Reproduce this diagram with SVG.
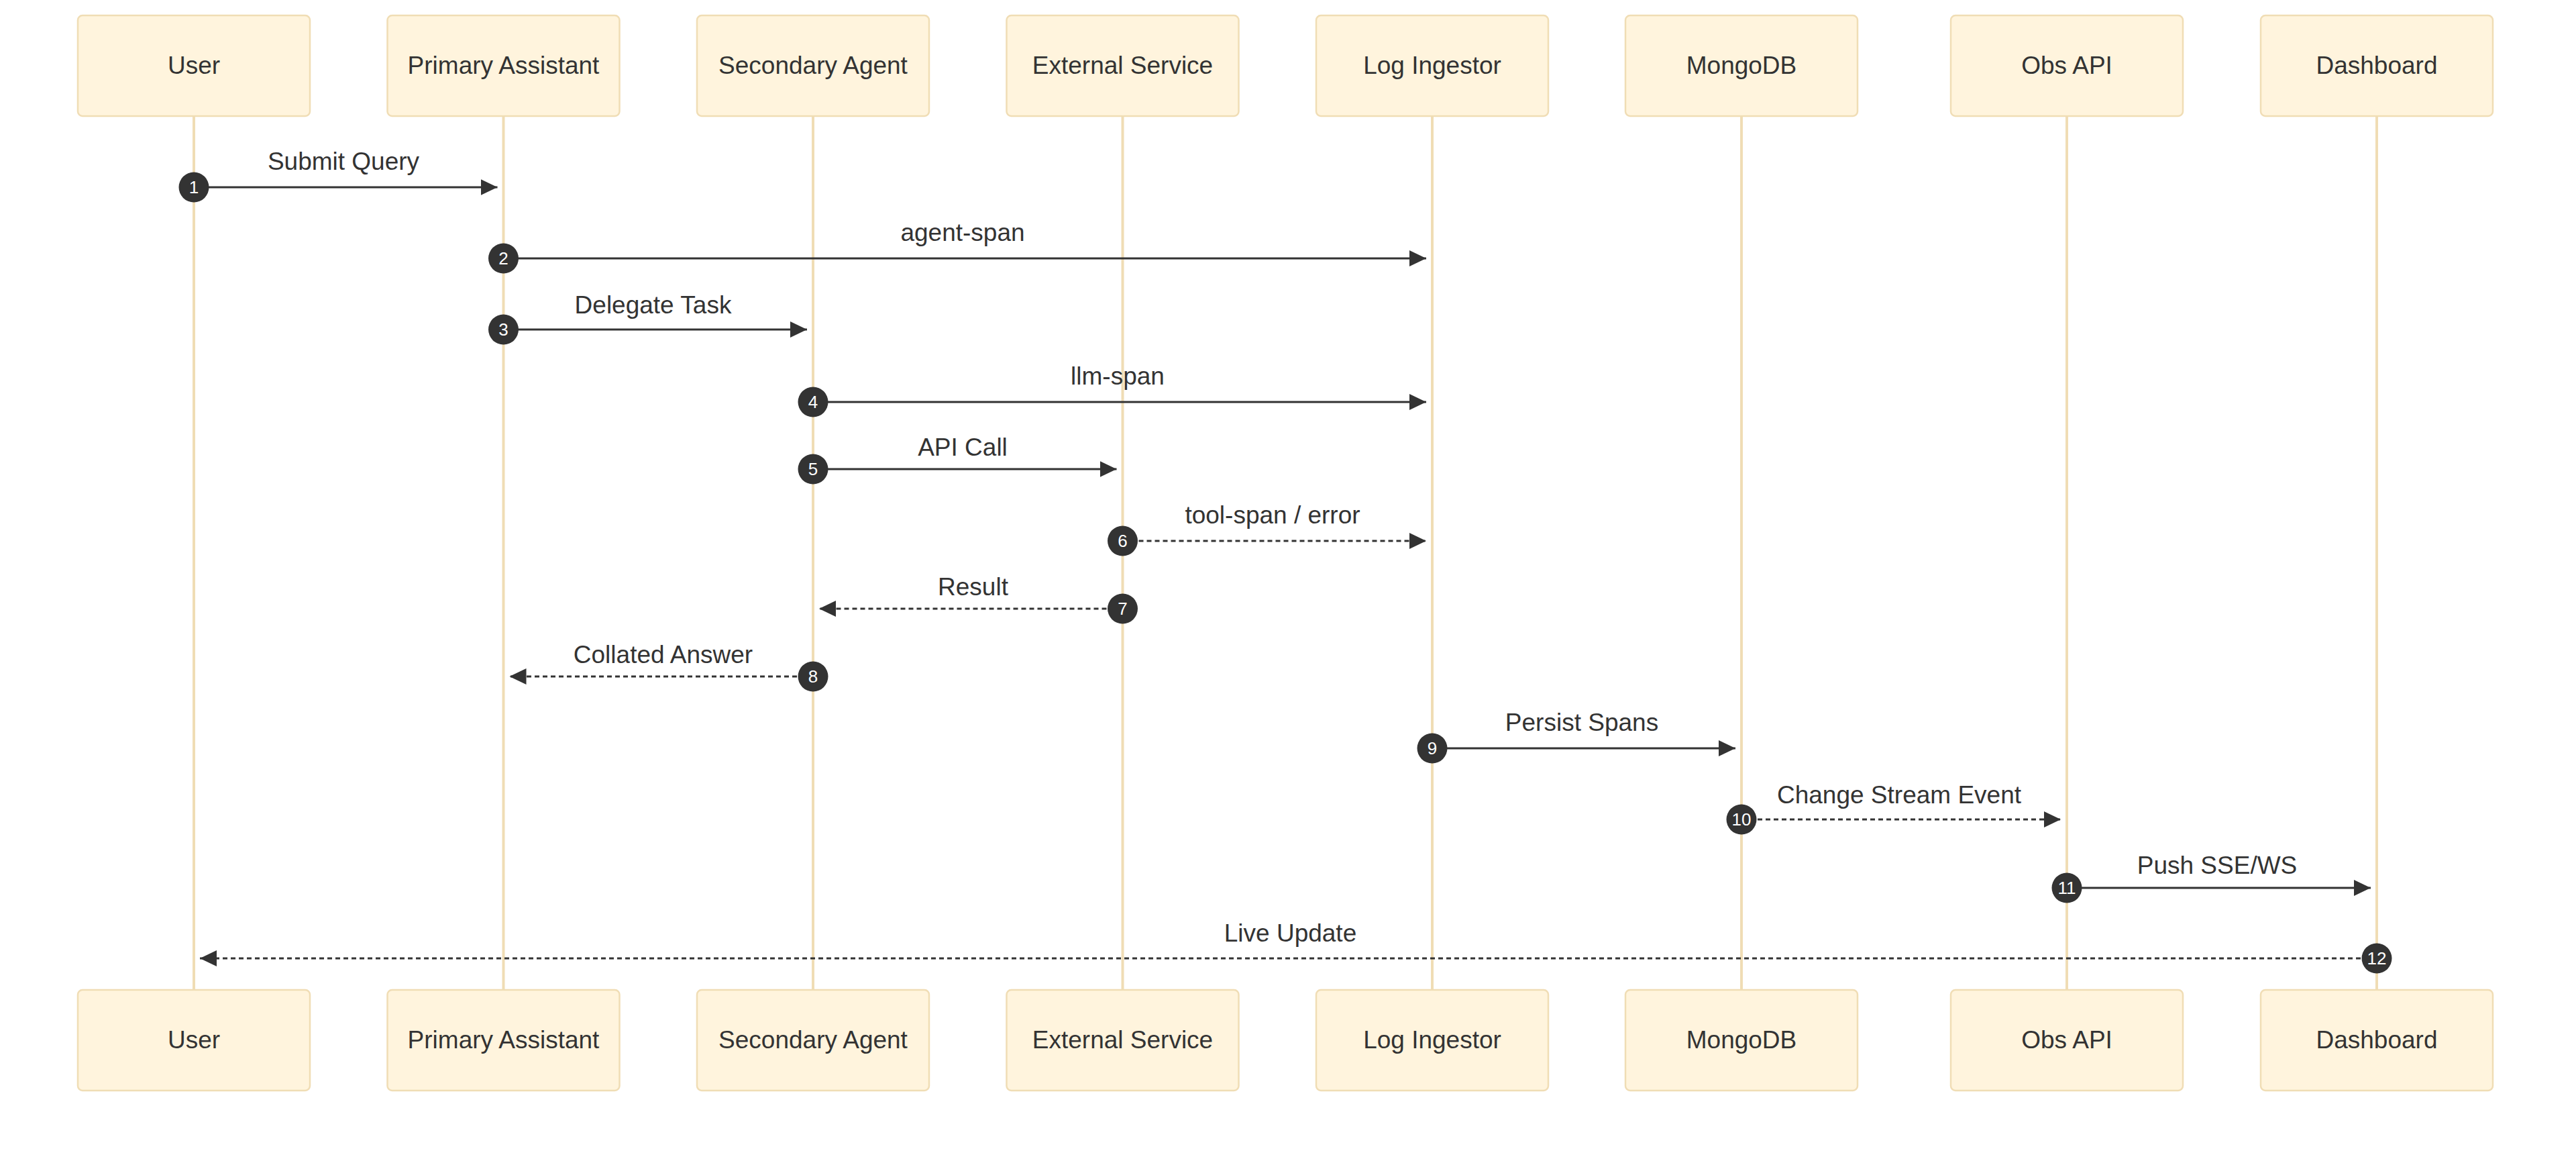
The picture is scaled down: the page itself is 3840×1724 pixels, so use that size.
<svg xmlns="http://www.w3.org/2000/svg" width="3840" height="1724" viewBox="0 0 3840 1724">
<style>
.bg{fill:#ffffff}
.actor{fill:#FFF4DD;stroke:#F0DDB5;stroke-width:2.5}
.atext{font-family:"Liberation Sans",Arial,sans-serif;font-size:37px;fill:#333333;text-anchor:middle}
.life{stroke:#F0DDB5;stroke-width:4}
.msg{stroke:#333333;stroke-width:3;fill:none}
.dash{stroke-dasharray:7,5}
.mtext{font-family:"Liberation Sans",Arial,sans-serif;font-size:37px;fill:#333333;text-anchor:middle}
.num{fill:#333333}
.ntext{font-family:"Liberation Sans",Arial,sans-serif;font-size:26px;fill:#ffffff;text-anchor:middle}
</style>
<defs>
<marker id="arrow" markerUnits="userSpaceOnUse" markerWidth="26" markerHeight="26" refX="25" refY="12" orient="auto">
<path d="M0,0 L25,12 L0,24 z" fill="#333333"/>
</marker>
</defs>
<rect class="bg" x="0" y="0" width="3840" height="1724"/>
<g id="lifelines">
<line class="life" x1="289" y1="173" x2="289" y2="1475"/>
<line class="life" x1="750.5" y1="173" x2="750.5" y2="1475"/>
<line class="life" x1="1212" y1="173" x2="1212" y2="1475"/>
<line class="life" x1="1673.5" y1="173" x2="1673.5" y2="1475"/>
<line class="life" x1="2135" y1="173" x2="2135" y2="1475"/>
<line class="life" x1="2596" y1="173" x2="2596" y2="1475"/>
<line class="life" x1="3081" y1="173" x2="3081" y2="1475"/>
<line class="life" x1="3543" y1="173" x2="3543" y2="1475"/>
</g>
<g id="user-top"><rect class="actor" x="116" y="23" width="346" height="150" rx="7"/><text class="atext" x="289" y="110">User</text></g>
<g id="primary-top"><rect class="actor" x="577.5" y="23" width="346" height="150" rx="7"/><text class="atext" x="750.5" y="110">Primary Assistant</text></g>
<g id="secondary-top"><rect class="actor" x="1039" y="23" width="346" height="150" rx="7"/><text class="atext" x="1212" y="110">Secondary Agent</text></g>
<g id="external-top"><rect class="actor" x="1500.5" y="23" width="346" height="150" rx="7"/><text class="atext" x="1673.5" y="110">External Service</text></g>
<g id="ingestor-top"><rect class="actor" x="1962" y="23" width="346" height="150" rx="7"/><text class="atext" x="2135" y="110">Log Ingestor</text></g>
<g id="mongodb-top"><rect class="actor" x="2423" y="23" width="346" height="150" rx="7"/><text class="atext" x="2596" y="110">MongoDB</text></g>
<g id="obsapi-top"><rect class="actor" x="2908" y="23" width="346" height="150" rx="7"/><text class="atext" x="3081" y="110">Obs API</text></g>
<g id="dashboard-top"><rect class="actor" x="3370" y="23" width="346" height="150" rx="7"/><text class="atext" x="3543" y="110">Dashboard</text></g>
<g id="user-bottom"><rect class="actor" x="116" y="1475" width="346" height="150" rx="7"/><text class="atext" x="289" y="1562">User</text></g>
<g id="primary-bottom"><rect class="actor" x="577.5" y="1475" width="346" height="150" rx="7"/><text class="atext" x="750.5" y="1562">Primary Assistant</text></g>
<g id="secondary-bottom"><rect class="actor" x="1039" y="1475" width="346" height="150" rx="7"/><text class="atext" x="1212" y="1562">Secondary Agent</text></g>
<g id="external-bottom"><rect class="actor" x="1500.5" y="1475" width="346" height="150" rx="7"/><text class="atext" x="1673.5" y="1562">External Service</text></g>
<g id="ingestor-bottom"><rect class="actor" x="1962" y="1475" width="346" height="150" rx="7"/><text class="atext" x="2135" y="1562">Log Ingestor</text></g>
<g id="mongodb-bottom"><rect class="actor" x="2423" y="1475" width="346" height="150" rx="7"/><text class="atext" x="2596" y="1562">MongoDB</text></g>
<g id="obsapi-bottom"><rect class="actor" x="2908" y="1475" width="346" height="150" rx="7"/><text class="atext" x="3081" y="1562">Obs API</text></g>
<g id="dashboard-bottom"><rect class="actor" x="3370" y="1475" width="346" height="150" rx="7"/><text class="atext" x="3543" y="1562">Dashboard</text></g>
<g id="connectors">
<g id="msg1"><text class="mtext" x="512" y="253">Submit Query</text><line class="msg" x1="289" y1="279" x2="741.5" y2="279" marker-end="url(#arrow)"/><circle class="num" cx="289" cy="279" r="22.5"/><text class="ntext" x="289" y="288">1</text></g>
<g id="msg2"><text class="mtext" x="1435" y="359">agent-span</text><line class="msg" x1="750.5" y1="385" x2="2126" y2="385" marker-end="url(#arrow)"/><circle class="num" cx="750.5" cy="385" r="22.5"/><text class="ntext" x="750.5" y="394">2</text></g>
<g id="msg3"><text class="mtext" x="973.5" y="467">Delegate Task</text><line class="msg" x1="750.5" y1="491" x2="1203" y2="491" marker-end="url(#arrow)"/><circle class="num" cx="750.5" cy="491" r="22.5"/><text class="ntext" x="750.5" y="500">3</text></g>
<g id="msg4"><text class="mtext" x="1666" y="573">llm-span</text><line class="msg" x1="1212" y1="599" x2="2126" y2="599" marker-end="url(#arrow)"/><circle class="num" cx="1212" cy="599" r="22.5"/><text class="ntext" x="1212" y="608">4</text></g>
<g id="msg5"><text class="mtext" x="1435" y="679">API Call</text><line class="msg" x1="1212" y1="699" x2="1664.5" y2="699" marker-end="url(#arrow)"/><circle class="num" cx="1212" cy="699" r="22.5"/><text class="ntext" x="1212" y="708">5</text></g>
<g id="msg6"><text class="mtext" x="1897" y="780">tool-span / error</text><line class="msg dash" x1="1673.5" y1="806" x2="2126" y2="806" marker-end="url(#arrow)"/><circle class="num" cx="1673.5" cy="806" r="22.5"/><text class="ntext" x="1673.5" y="815">6</text></g>
<g id="msg7"><text class="mtext" x="1450.5" y="887">Result</text><line class="msg dash" x1="1673.5" y1="907" x2="1221" y2="907" marker-end="url(#arrow)"/><circle class="num" cx="1673.5" cy="907" r="22.5"/><text class="ntext" x="1673.5" y="916">7</text></g>
<g id="msg8"><text class="mtext" x="988.5" y="988">Collated Answer</text><line class="msg dash" x1="1212" y1="1008" x2="759.5" y2="1008" marker-end="url(#arrow)"/><circle class="num" cx="1212" cy="1008" r="22.5"/><text class="ntext" x="1212" y="1017">8</text></g>
<g id="msg9"><text class="mtext" x="2358" y="1089">Persist Spans</text><line class="msg" x1="2135" y1="1115" x2="2587" y2="1115" marker-end="url(#arrow)"/><circle class="num" cx="2135" cy="1115" r="22.5"/><text class="ntext" x="2135" y="1124">9</text></g>
<g id="msg10"><text class="mtext" x="2831" y="1197">Change Stream Event</text><line class="msg dash" x1="2596" y1="1221" x2="3072" y2="1221" marker-end="url(#arrow)"/><circle class="num" cx="2596" cy="1221" r="22.5"/><text class="ntext" x="2596" y="1230">10</text></g>
<g id="msg11"><text class="mtext" x="3305" y="1302">Push SSE/WS</text><line class="msg" x1="3081" y1="1323" x2="3534" y2="1323" marker-end="url(#arrow)"/><circle class="num" cx="3081" cy="1323" r="22.5"/><text class="ntext" x="3081" y="1332">11</text></g>
<g id="msg12"><text class="mtext" x="1923.5" y="1403">Live Update</text><line class="msg dash" x1="3543" y1="1428" x2="298" y2="1428" marker-end="url(#arrow)"/><circle class="num" cx="3543" cy="1428" r="22.5"/><text class="ntext" x="3543" y="1437">12</text></g>
</g>
</svg>
